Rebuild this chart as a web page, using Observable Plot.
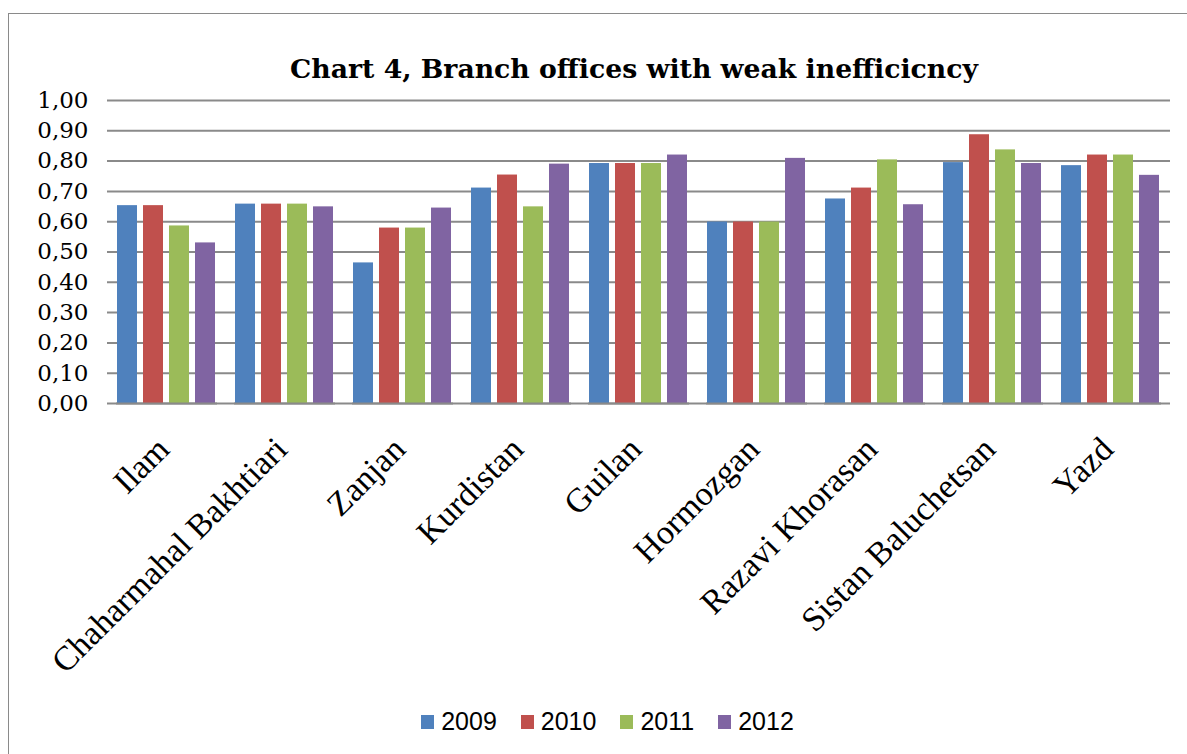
<!DOCTYPE html>
<html>
<head>
<meta charset="utf-8">
<script src="https://cdn.jsdelivr.net/npm/d3@7"></script>
<script src="https://cdn.jsdelivr.net/npm/@observablehq/plot@0.6"></script>
<style>
  html, body { margin: 0; padding: 0; background: #fff; width: 1187px; height: 754px; overflow: hidden; }
  #frame { position: absolute; left: 8px; top: 13px; width: 1300px; height: 900px; border: 1.5px solid #8a8a8a; box-sizing: border-box; }
  #title { position: absolute; left: 0; width: 1268px; top: 53px; text-align: center; font-family: "DejaVu Serif", serif; font-weight: bold; font-size: 26.7px; color: #000; }
  #back, #front { position: absolute; left: 0; top: 0; }
  #legend { position: absolute; left: 0; width: 1215px; top: 707px; display: flex; justify-content: center; gap: 0; font-family: "Liberation Sans", Arial, sans-serif; font-size: 25px; color: #000; }
  .item { display: flex; align-items: center; margin: 0 12px; }
  .sw { width: 13px; height: 14px; margin-right: 7px; }
</style>
</head>
<body>
<div id="frame"></div>
<div id="title">Chart 4, Branch offices with weak inefficicncy</div>
<div id="back"></div>
<div id="front"></div>
<div id="legend"></div>
<script>
const regions = ["Ilam", "Chaharmahal Bakhtiari", "Zanjan", "Kurdistan", "Guilan", "Hormozgan", "Razavi Khorasan", "Sistan Baluchetsan", "Yazd"];
const years = ["2009", "2010", "2011", "2012"];
const v2009 = [0.653, 0.658, 0.464, 0.711, 0.792, 0.599, 0.675, 0.795, 0.785];
const v2010 = [0.653, 0.658, 0.579, 0.754, 0.792, 0.599, 0.711, 0.887, 0.820];
const v2011 = [0.586, 0.658, 0.579, 0.649, 0.792, 0.599, 0.804, 0.837, 0.820];
const v2012 = [0.530, 0.649, 0.645, 0.790, 0.820, 0.809, 0.656, 0.792, 0.753];
const yTicks = [0, 0.1, 0.2, 0.3, 0.4, 0.5, 0.6, 0.7, 0.8, 0.9, 1.0];
const colors = ["#4F81BD", "#C0504D", "#9BBB59", "#8064A2"];

const series = [v2009, v2010, v2011, v2012];
const data = [];
regions.forEach((r, i) => years.forEach((y, j) => data.push({region: r, year: y, value: series[j][i]})));

const W = 1187, H = 754;
const common = {
  width: W, height: H,
  marginLeft: 107, marginRight: 17, marginTop: 100, marginBottom: H - 403,
  y: {domain: [0, 1]}
};
const pIn = 0.144, pOut = 0.072;

const back = Plot.plot({
  ...common,
  x: {domain: regions, paddingInner: pIn, paddingOuter: pOut},
  style: {background: "transparent"},
  marks: [
    Plot.gridY(yTicks, {stroke: "#8a8a8a", strokeOpacity: 1, strokeWidth: 2}),
    Plot.axisY(yTicks, {tickSize: 0, tickPadding: 19, tickFormat: d => d.toFixed(2).replace(".", ","),
      fontSize: 23, fontFamily: "DejaVu Serif", fill: "#000"}),
    Plot.axisX({tickSize: 0, tickRotate: -45, tickPadding: 12, dx: -4, dy: 28, fontSize: 34, fontFamily: "Liberation Serif", fill: "#000", label: null})
  ]
});
document.getElementById("back").appendChild(back);

const front = Plot.plot({
  ...common,
  fx: {domain: regions, paddingInner: pIn, paddingOuter: pOut, axis: null, label: null},
  x: {domain: years, paddingInner: 0.213, paddingOuter: 0, axis: null},
  color: {domain: years, range: colors},
  style: {background: "transparent"},
  marks: [
    Plot.barY(data, {fx: "region", x: "year", y: "value", fill: "year"}),
    Plot.ruleY([0], {stroke: "#8a8a8a", strokeWidth: 2}),
    Plot.axisY({ticks: [], label: null, tickSize: 0})
  ]
});
document.getElementById("front").appendChild(front);

const legend = document.getElementById("legend");
years.forEach((y, j) => {
  const it = document.createElement("div");
  it.className = "item";
  const sw = document.createElement("div");
  sw.className = "sw";
  sw.style.background = colors[j];
  const t = document.createElement("span");
  t.textContent = y;
  it.appendChild(sw); it.appendChild(t);
  legend.appendChild(it);
});
</script>
</body>
</html>
